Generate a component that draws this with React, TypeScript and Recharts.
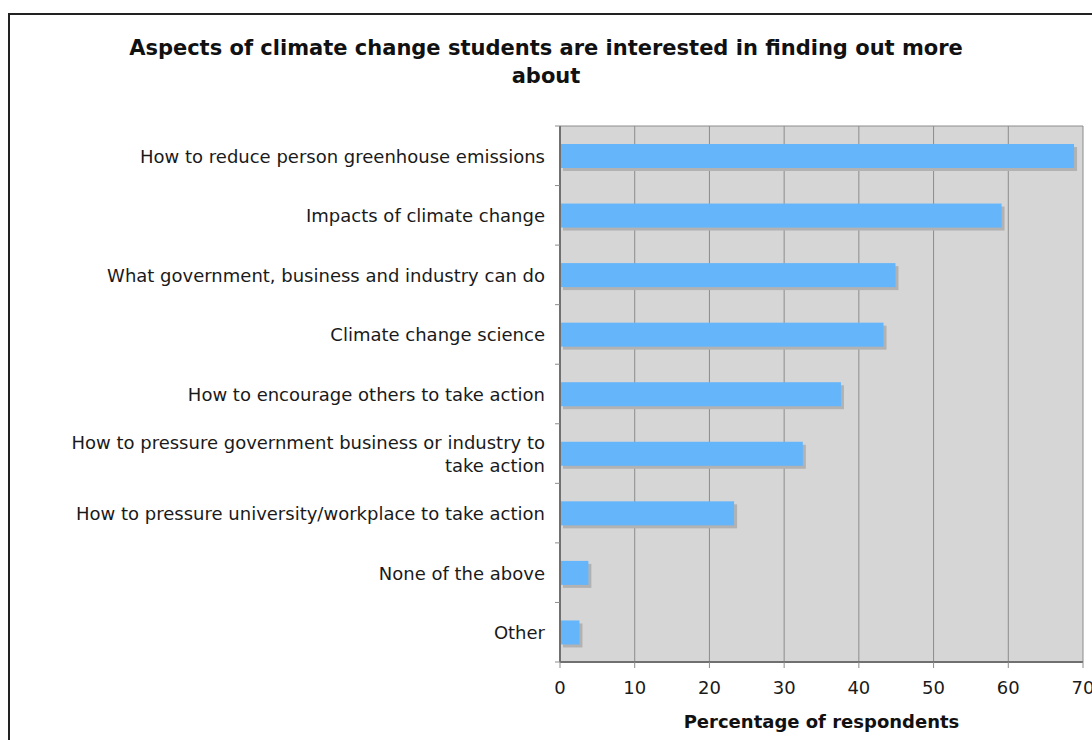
import React from 'react'
import { BarChart, Bar, XAxis, YAxis, CartesianGrid } from 'recharts'

const categories = [
  'How to reduce person greenhouse emissions',
  'Impacts of climate change',
  'What government, business and industry can do',
  'Climate change science',
  'How to encourage others to take action',
  'How to pressure government business or industry to|take action',
  'How to pressure university/workplace to take action',
  'None of the above',
  'Other',
]
const percentages = [68.8, 59.1, 44.9, 43.3, 37.6, 32.5, 23.3, 3.8, 2.6]
const xTicks = [0, 10, 20, 30, 40, 50, 60, 70]

const data = categories.map((name, i) => ({ name, value: percentages[i] }))

const FONT = '"DejaVu Sans", Verdana, sans-serif'
const W = 1092
const H = 740
const PLOT_TOP = 126
const PLOT_BOTTOM = 662
const BAND = (PLOT_BOTTOM - PLOT_TOP) / categories.length

function ShadowBar(props: any) {
  const { x, y, width, height } = props
  if (!width || width <= 0) return null
  return (
    <g>
      <rect x={x + 3} y={y + 3} width={width} height={height} fill="#b2b2b2" />
      <rect x={x} y={y} width={width} height={height} fill="#65b5fb" />
    </g>
  )
}

function CategoryTick(props: any) {
  const { x, y, payload, index } = props
  const lines = String(payload.value).split('|')
  const lh = 23
  const startY = y - ((lines.length - 1) * lh) / 2
  return (
    <g>
      {index === 0 && (
        <line x1={x + 10} x2={x + 15} y1={y - BAND / 2} y2={y - BAND / 2} stroke="#8c8c8c" />
      )}
      <line x1={x + 10} x2={x + 15} y1={y + BAND / 2} y2={y + BAND / 2} stroke="#8c8c8c" />
      <text x={x} y={startY} textAnchor="end" dominantBaseline="central" fill="#1a1a1a" fontSize={18} fontFamily={FONT}>
        {lines.map((l, i) => (
          <tspan key={i} x={x} dy={i === 0 ? 0 : lh}>{l}</tspan>
        ))}
      </text>
    </g>
  )
}

export default function App() {
  return (
    <div style={{ position: 'absolute', left: 0, top: 0, width: W, height: H, background: '#fff', overflow: 'hidden', fontFamily: FONT }}>
      {/* outer frame */}
      <div style={{ position: 'absolute', left: 8, top: 13, width: 1100, height: 760, border: '2px solid #222', boxSizing: 'border-box' }} />
      <div style={{ position: 'absolute', left: 0, top: 34, width: W, textAlign: 'center', fontWeight: 700, fontSize: 21, lineHeight: '28px', color: '#111' }}>
        Aspects of climate change students are interested in finding out more
        <br />
        about
      </div>
      <div style={{ position: 'absolute', left: 0, top: 0 }}>
        <BarChart
          width={W}
          height={H}
          data={data}
          layout="vertical"
          margin={{ top: PLOT_TOP, right: 9, bottom: 0, left: 0 }}
          barSize={24}
        >
          <CartesianGrid
            fill="#d6d6d6"
            stroke="#8c8c8c"
            horizontalPoints={[PLOT_TOP]}
            strokeWidth={1}
          />
          <XAxis
            type="number"
            domain={[0, 70]}
            ticks={xTicks}
            interval={0}
            height={H - PLOT_BOTTOM}
            axisLine={{ stroke: '#707070', strokeWidth: 2 }}
            tickLine={{ stroke: '#8c8c8c' }}
            tickSize={6}
            tickMargin={13}
            tick={{ fill: '#1a1a1a', fontSize: 18, fontFamily: FONT }}
            label={{ value: 'Percentage of respondents', position: 'insideBottom', offset: 12, fill: '#111', fontSize: 18, fontWeight: 700, fontFamily: FONT }}
          />
          <YAxis
            type="category"
            dataKey="name"
            width={560}
            interval={0}
            axisLine={{ stroke: '#707070', strokeWidth: 2 }}
            tickLine={false}
            tickSize={0}
            tickMargin={15}
            tick={<CategoryTick />}
          />
          <Bar dataKey="value" shape={<ShadowBar />} isAnimationActive={false} />
        </BarChart>
      </div>
    </div>
  )
}
